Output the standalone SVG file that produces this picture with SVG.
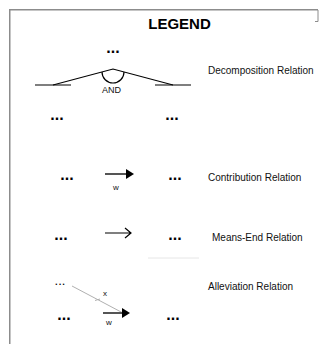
<svg xmlns="http://www.w3.org/2000/svg" width="320" height="344" viewBox="0 0 320 344">
  <defs>
    <style>
      .frame { fill: none; stroke: #8c8c8c; stroke-width: 1.5; }
      .title { font-family: "Liberation Sans", Arial, sans-serif; font-size: 15px; font-weight: bold; fill: #000; }
      .label { font-family: "Liberation Sans", Arial, sans-serif; font-size: 10px; fill: #111; }
      .small { font-family: "Liberation Sans", Arial, sans-serif; font-size: 9px; fill: #111; }
      .tiny { font-family: "Liberation Sans", Arial, sans-serif; font-size: 8px; fill: #111; }
      .dots { font-family: "Liberation Sans", Arial, sans-serif; font-size: 16px; font-weight: bold; fill: #000; }
      .dots-light { font-family: "Liberation Sans", Arial, sans-serif; font-size: 13px; fill: #000; }
      .line { fill: none; stroke: #000; stroke-width: 1.2; }
      .bold-line { fill: none; stroke: #555; stroke-width: 2; }
      .grey-line { fill: none; stroke: #b0b0b0; stroke-width: 1; }
    </style>
    <marker id="solid-head" viewBox="0 0 8 10" refX="0" refY="5" markerWidth="8" markerHeight="10" markerUnits="userSpaceOnUse" orient="auto">
      <path d="M0,0 L8,5 L0,10 Z" fill="#000"/>
    </marker>
  </defs>

  <!-- frame -->
  <path class="frame" d="M9.75,344 V9.75 H318"/>
  <path d="M318,10 V21.5 H315" fill="none" stroke="#8c8c8c" stroke-width="1"/>

  <text class="title" x="179.5" y="29" text-anchor="middle">LEGEND</text>

  <!-- decomposition -->
  <g id="decomposition">
    <text class="dots" x="113" y="52.5" text-anchor="middle">...</text>
    <text class="dots" x="57" y="119.5" text-anchor="middle">...</text>
    <text class="dots" x="172" y="119.5" text-anchor="middle">...</text>
    <text class="small" x="102" y="93">AND</text>
    <text class="label" x="208" y="74">Decomposition Relation</text>
  </g>

  <!-- contribution -->
  <g id="contribution">
    <text class="dots" x="67" y="180" text-anchor="middle">...</text>
    <text class="dots" x="175" y="180" text-anchor="middle">...</text>
    <text class="tiny" x="113" y="190">w</text>
    <text class="label" x="208" y="181">Contribution Relation</text>
  </g>

  <!-- means-end -->
  <g id="means-end">
    <text class="dots" x="61" y="240" text-anchor="middle">...</text>
    <text class="dots" x="175" y="240" text-anchor="middle">...</text>
    <text class="label" x="212" y="241">Means-End Relation</text>
  </g>

  <!-- alleviation -->
  <g id="alleviation">
    <text class="dots-light" x="60" y="285" text-anchor="middle">...</text>
    <text class="dots" x="64" y="320" text-anchor="middle">...</text>
    <text class="dots" x="173" y="320" text-anchor="middle">...</text>
    <text class="tiny" x="103" y="296">x</text>
    <text class="tiny" x="106" y="325">w</text>
    <text class="label" x="208" y="290">Alleviation Relation</text>
  </g>

  <!-- connectors -->
  <g id="connectors">
    <!-- AND decomposition -->
    <path class="line" d="M53,85 L113,69 L173,85"/>
    <path class="line" d="M35,85 H71 M155,85 H191"/>
    <path class="line" d="M102,72 A11,11 0 0 0 124,72"/>
    <!-- contribution -->
    <path class="bold-line" d="M105,174 H126" marker-end="url(#solid-head)"/>
    <!-- means-end -->
    <path class="line" d="M105,233 H131 M125,228 L131,233 L125,238"/>
    <path d="M148,258 H199" stroke="#e6e6e6" stroke-width="1"/>
    <!-- alleviation -->
    <path class="grey-line" d="M72,286 L123,313"/>
    <path class="grey-line" d="M95,300.5 L100,299"/>
    <path class="bold-line" d="M103,313 H122" marker-end="url(#solid-head)"/>
  </g>
</svg>
